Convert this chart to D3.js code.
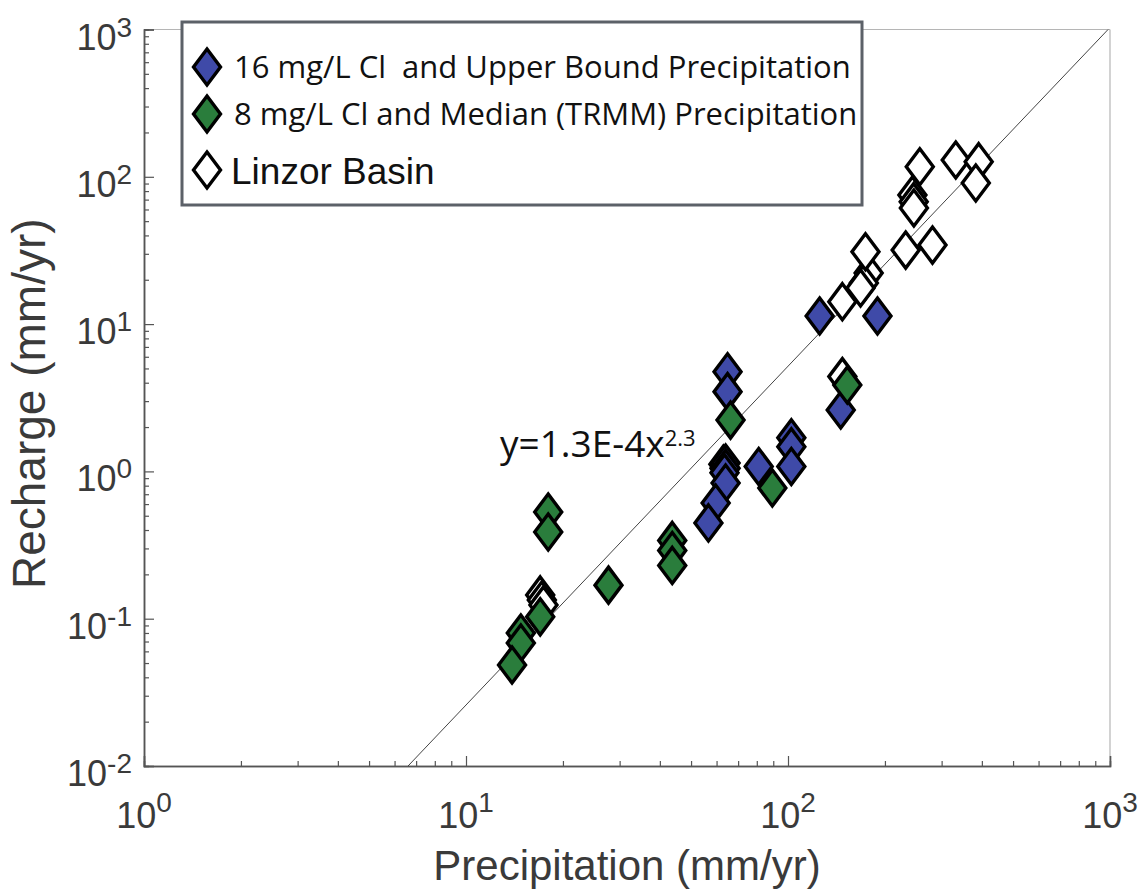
<!DOCTYPE html>
<html>
<head>
<meta charset="utf-8">
<script src="https://cdn.jsdelivr.net/npm/d3@7"></script>
<style>
  body { margin: 0; background: #fff; }
</style>
</head>
<body>
<script>
// ---- data ----
// 16 mg/L Cl and upper bound precipitation (blue)
const upperPrecip   = [64.9, 64.9, 64.0, 64.0, 63.5, 64.0, 59.6, 56.6, 81.1, 102.4, 102.4, 102.4, 125.4, 189.6, 145.8];
const upperRecharge = [4.75, 3.48, 1.14, 1.05, 0.98, 0.834, 0.61, 0.447, 1.08, 1.69, 1.47, 1.08, 11.35, 11.35, 2.61];

// 8 mg/L Cl and median (TRMM) precipitation (green)
const medianPrecip   = [18.0, 18.0, 17.0, 14.8, 14.8, 13.9, 27.7, 43.7, 43.7, 43.7, 66.3, 89.4, 152.8];
const medianRecharge = [0.53, 0.388, 0.103, 0.080, 0.0684, 0.0485, 0.169, 0.34, 0.29, 0.23, 2.23, 0.771, 3.86];

// Linzor Basin (white)
const linzorPrecip   = [17.0, 17.2, 17.4, 63.0, 63.5, 147.5, 147.5, 178, 172, 168, 174, 232, 281, 256.6, 243.4, 245.7, 246, 331.9, 391, 383];
const linzorRecharge = [0.145, 0.134, 0.124, 1.12, 1.05, 14.2, 4.40, 22.2, 19.0, 17.6, 31, 31.8, 34.4, 117, 75.2, 67.8, 61.4, 130, 126.7, 90.8];

// power-law fit shown on the chart: y = 1.3E-4 x^2.3
const fitCoef = 1.3e-4;
const fitExp = 2.3;

const xDomain = [1, 1000];
const yDomain = [0.01, 1000];
const xTickVals = [1, 10, 100, 1000];
const xTickExp  = ["0", "1", "2", "3"];
const yTickVals = [0.01, 0.1, 1, 10, 100, 1000];
const yTickExp  = ["-2", "-1", "0", "1", "2", "3"];

const legendLabels = [
  "16 mg/L Cl  and Upper Bound Precipitation",
  "8 mg/L Cl and Median (TRMM) Precipitation",
  "Linzor Basin"
];
const colors = ["#3f4aa8", "#2a7d3c", "#ffffff"];

// ---- layout ----
const W = 1148, H = 893;
const margin = {top: 29.5, right: 38, bottom: 127, left: 144};
const pw = W - margin.left - margin.right;
const ph = H - margin.top - margin.bottom;

const svg = d3.select("body").append("svg")
    .attr("width", W)
    .attr("height", H);

const g = svg.append("g")
    .attr("transform", "translate(" + margin.left + "," + margin.top + ")");

const x = d3.scaleLog().domain(xDomain).range([0, pw]);
const y = d3.scaleLog().domain(yDomain).range([ph, 0]);

const tickFont = "'Liberation Sans', Arial, Helvetica, sans-serif";
const legFont = "'Open Sans', 'Noto Sans', sans-serif";
const labelColor = "#3a3a3a";
const axisColor = "#555";

// box top / right (light)
g.append("line").attr("x1", 0).attr("x2", pw).attr("y1", 0).attr("y2", 0)
    .attr("stroke", "#b5b5b5").attr("stroke-width", 1.2);
g.append("line").attr("x1", pw).attr("x2", pw).attr("y1", 0).attr("y2", ph)
    .attr("stroke", "#b5b5b5").attr("stroke-width", 1.2);

// minor ticks
const minorX = x.ticks().filter(v => !xTickVals.includes(v));
const minorY = y.ticks().filter(v => !yTickVals.some(t => Math.abs(t - v) / t < 1e-6));

const xAxisMinor = d3.axisBottom(x).tickValues(minorX).tickSize(-5).tickFormat("");
const xAxisMajor = d3.axisBottom(x).tickValues(xTickVals).tickSize(-10).tickFormat("");
const yAxisMinor = d3.axisLeft(y).tickValues(minorY).tickSize(-5).tickFormat("");
const yAxisMajor = d3.axisLeft(y).tickValues(yTickVals).tickSize(-10).tickFormat("");

[[xAxisMinor, "translate(0," + ph + ")"], [xAxisMajor, "translate(0," + ph + ")"],
 [yAxisMinor, null], [yAxisMajor, null]].forEach(function(a) {
  const ax = g.append("g").call(a[0]);
  if (a[1]) ax.attr("transform", a[1]);
  ax.selectAll("line").attr("stroke", axisColor).attr("stroke-width", 1.2);
  ax.select(".domain").attr("stroke", axisColor).attr("stroke-width", 1.5);
});

// tick labels with superscripts
xTickVals.forEach(function(v, i) {
  const t = g.append("text")
      .attr("x", x(v))
      .attr("y", ph + 62)
      .attr("text-anchor", "middle")
      .attr("font-family", tickFont)
      .attr("font-size", 36)
      .attr("fill", labelColor);
  t.append("tspan").text("10");
  t.append("tspan").attr("font-size", 28).attr("dy", -16).text(xTickExp[i]);
});
yTickVals.forEach(function(v, i) {
  const t = g.append("text")
      .attr("x", -12)
      .attr("y", y(v) + 20)
      .attr("text-anchor", "end")
      .attr("font-family", tickFont)
      .attr("font-size", 36)
      .attr("fill", labelColor);
  t.append("tspan").text("10");
  t.append("tspan").attr("font-size", 28).attr("dy", -13).text(yTickExp[i]);
});

// axis titles
svg.append("text")
    .attr("x", margin.left + pw / 2)
    .attr("y", 880)
    .attr("text-anchor", "middle")
    .attr("font-family", tickFont)
    .attr("font-size", 42)
    .attr("fill", labelColor)
    .text("Precipitation (mm/yr)");

svg.append("text")
    .attr("transform", "translate(45," + (margin.top + ph / 2 + 6) + ") rotate(-90)")
    .attr("text-anchor", "middle")
    .attr("font-family", tickFont)
    .attr("font-size", 46)
    .attr("fill", labelColor)
    .text("Recharge (mm/yr)");

// fit line, clipped to the axes box
const fitX0 = Math.pow(yDomain[0] / fitCoef, 1 / fitExp);
const fitX1 = Math.min(xDomain[1], Math.pow(yDomain[1] / fitCoef, 1 / fitExp));
g.append("line")
    .attr("x1", x(fitX0)).attr("y1", y(fitCoef * Math.pow(fitX0, fitExp)))
    .attr("x2", x(fitX1)).attr("y2", y(fitCoef * Math.pow(fitX1, fitExp)))
    .attr("stroke", "#444")
    .attr("stroke-width", 1);

// diamond markers
const dw = 13.5, dh = 18;
const diamond = "M0," + (-dh) + "L" + dw + ",0L0," + dh + "L" + (-dw) + ",0Z";

function drawSeries(xs, ys, fill) {
  g.append("g").selectAll("path")
    .data(xs.map((v, i) => [v, ys[i]]))
    .enter()
    .append("path")
      .attr("d", diamond)
      .attr("transform", d => "translate(" + x(d[0]) + "," + y(d[1]) + ")")
      .attr("fill", fill)
      .attr("stroke", "#000")
      .attr("stroke-width", 3.4)
      .attr("stroke-linejoin", "miter");
}
drawSeries(linzorPrecip, linzorRecharge, colors[2]);
drawSeries(upperPrecip, upperRecharge, colors[0]);
drawSeries(medianPrecip, medianRecharge, colors[1]);

// fit equation
const eq = svg.append("text")
    .attr("x", 500)
    .attr("y", 457)
    .attr("font-family", legFont)
    .attr("font-size", 37)
    .attr("fill", "#111");
eq.append("tspan").text("y=1.3E-4x");
eq.append("tspan").attr("font-size", 22).attr("dy", -11).text("2.3");

// legend
const leg = svg.append("g");
leg.append("rect")
    .attr("x", 182).attr("y", 22)
    .attr("width", 680).attr("height", 183)
    .attr("fill", "#fff")
    .attr("stroke", "#5c6168")
    .attr("stroke-width", 3);

const legY = [67, 114, 170];
legendLabels.forEach(function(lab, i) {
  leg.append("path")
      .attr("d", diamond)
      .attr("transform", "translate(207," + legY[i] + ")")
      .attr("fill", colors[i])
      .attr("stroke", "#000")
      .attr("stroke-width", 3.4);
  leg.append("text")
      .attr("x", i === 2 ? 231 : 234)
      .attr("y", legY[i] + (i === 2 ? 14 : 11))
      .attr("font-family", i === 2 ? tickFont : legFont)
      .attr("font-size", i === 2 ? 37 : 31)
      .attr("fill", "#111")
      .style("white-space", "pre")
      .text(lab);
});
</script>
</body>
</html>
